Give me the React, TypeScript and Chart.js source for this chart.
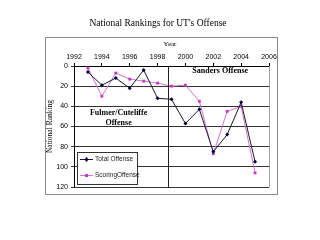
import React, { useEffect, useRef } from "react";
import { Chart, registerables } from "chart.js";

Chart.register(...registerables);

// Season years and national rankings per season
const years = [1993, 1994, 1995, 1996, 1997, 1998, 1999, 2000, 2001, 2002, 2003, 2004, 2005];
const totalOffense = [6, 19, 12, 22, 4, 32, 33, 57, 43, 85, 68, 36, 95];
const scoringOffense = [2, 30, 7, 13, 15, 17, 20, 19, 35, 87, 45, 40, 106];

// Boundary between the two coordinators' eras
const eraDividerYear = 1998.75;
const eraDividerRanks = [0, 120];

const seriesNames = ["Total Offense", "ScoringOffense"];
const eraLabels = [
  { text: ["Sanders Offense"], x: 2002.5, y: 5 },
  { text: ["Fulmer/Cuteliffe", "Offense"], x: 1995.2, y: 47 },
];

const TOTAL_LINE = "#1a1a33";
const TOTAL_MARK = "#000040";
const SCORING_LINE = "#cc77cc";
const SCORING_MARK = "#cc33cc";

const decorPlugin = {
  id: "decor",
  beforeDraw(chart: any) {
    const { ctx } = chart;
    ctx.save();
    ctx.fillStyle = "#ffffff";
    ctx.fillRect(0, 0, chart.width, chart.height);
    ctx.restore();
  },
  afterDatasetsDraw(chart: any) {
    const { ctx } = chart;
    const xs = chart.scales.x;
    const ys = chart.scales.y;
    // era divider, snapped to the pixel grid
    const px = Math.round(xs.getPixelForValue(eraDividerYear)) + 0.5;
    ctx.save();
    ctx.strokeStyle = "#222";
    ctx.lineWidth = 1;
    ctx.beginPath();
    ctx.moveTo(px, ys.getPixelForValue(eraDividerRanks[0]));
    ctx.lineTo(px, ys.getPixelForValue(eraDividerRanks[1]));
    ctx.stroke();
    ctx.restore();
  },
  afterDraw(chart: any) {
    const { ctx, chartArea } = chart;
    const xs = chart.scales.x;
    const ys = chart.scales.y;
    ctx.save();
    // outer frame
    ctx.strokeStyle = "#8a8a8a";
    ctx.lineWidth = 1;
    ctx.strokeRect(45.5, 37.5, 232, 157);
    // right edge of the plot area
    ctx.strokeStyle = "#a0a0a0";
    ctx.beginPath();
    ctx.moveTo(Math.round(chartArea.right) + 0.5, chartArea.top);
    ctx.lineTo(Math.round(chartArea.right) + 0.5, chartArea.bottom);
    ctx.stroke();
    // title
    ctx.fillStyle = "#000";
    ctx.textAlign = "center";
    ctx.textBaseline = "middle";
    ctx.font = "9.5px 'Liberation Serif', serif";
    ctx.fillText("National Rankings for UT's Offense", 158, 23);
    // axis titles
    ctx.font = "7px 'Liberation Serif', serif";
    ctx.fillText("Year", 170, 44);
    ctx.save();
    ctx.translate(50, (chartArea.top + chartArea.bottom) / 2);
    ctx.rotate(-Math.PI / 2);
    ctx.font = "7.5px 'Liberation Serif', serif";
    ctx.fillText("National Ranking", 0, 0);
    ctx.restore();
    // era labels
    ctx.font = "bold 8px 'Liberation Serif', serif";
    eraLabels.forEach((l) => {
      l.text.forEach((t, i) => {
        ctx.fillText(t, xs.getPixelForValue(l.x), ys.getPixelForValue(l.y) + i * 10);
      });
    });
    // legend box inside the plot
    const lx = 77.5, ly = 152.5, lw = 60, lh = 32;
    ctx.fillStyle = "#fff";
    ctx.fillRect(lx, ly, lw, lh);
    ctx.strokeStyle = "#333";
    ctx.strokeRect(lx, ly, lw, lh);
    const rows = [
      { name: seriesNames[0], line: TOTAL_LINE, mark: TOTAL_MARK, shape: "diamond", y: 159 },
      { name: seriesNames[1], line: SCORING_LINE, mark: SCORING_MARK, shape: "square", y: 175 },
    ];
    rows.forEach((r) => {
      ctx.strokeStyle = r.line;
      ctx.beginPath();
      ctx.moveTo(80, r.y + 0.5);
      ctx.lineTo(93, r.y + 0.5);
      ctx.stroke();
      ctx.fillStyle = r.mark;
      if (r.shape === "square") {
        ctx.fillRect(85, r.y - 1, 3, 3);
      } else {
        ctx.beginPath();
        ctx.moveTo(86.5, r.y - 2);
        ctx.lineTo(88.5, r.y + 0.5);
        ctx.lineTo(86.5, r.y + 3);
        ctx.lineTo(84.5, r.y + 0.5);
        ctx.closePath();
        ctx.fill();
      }
      ctx.fillStyle = "#222";
      ctx.textAlign = "left";
      ctx.font = "6.5px 'Liberation Sans', sans-serif";
      ctx.fillText(r.name, 95, r.y + 0.5);
    });
    ctx.restore();
  },
};

export default function App() {
  const ref = useRef<HTMLCanvasElement>(null);

  useEffect(() => {
    document.body.style.margin = "0";
    const chart = new Chart(ref.current!, {
      type: "line",
      data: {
        datasets: [
          {
            label: seriesNames[0],
            data: years.map((x, i) => ({ x, y: totalOffense[i] })),
            borderColor: TOTAL_LINE,
            backgroundColor: TOTAL_MARK,
            borderWidth: 1,
            pointStyle: "rectRot",
            pointRadius: 2,
            pointBorderWidth: 0,
          },
          {
            label: seriesNames[1],
            data: years.map((x, i) => ({ x, y: scoringOffense[i] })),
            borderColor: SCORING_LINE,
            backgroundColor: SCORING_MARK,
            borderWidth: 1,
            pointStyle: "rect",
            pointRadius: 2,
            pointBorderWidth: 0,
          },
        ],
      },
      options: {
        responsive: false,
        animation: false,
        layout: { padding: { left: 0, right: 51, top: 0, bottom: 53 } },
        plugins: {
          legend: { display: false },
          tooltip: { enabled: false },
        },
        scales: {
          x: {
            type: "linear",
            position: "top",
            min: 1992,
            max: 2006,
            afterFit: (s: any) => { s.height = 66; },
            ticks: {
              stepSize: 2,
              color: "#000",
              font: { family: "'Liberation Sans', sans-serif", size: 7 },
              padding: 2,
              callback: (v: any) => String(v),
            },
            grid: {
              drawOnChartArea: false,
              color: "#000",
              tickLength: 3,
            },
            border: { color: "#000" },
          },
          y: {
            reverse: true,
            min: 0,
            max: 120,
            afterFit: (s: any) => { s.width = 74; },
            ticks: {
              stepSize: 20,
              color: "#000",
              font: { family: "'Liberation Sans', sans-serif", size: 7 },
              padding: 3,
            },
            grid: {
              color: "#333",
              tickLength: 3,
            },
            border: { color: "#000" },
          },
        },
      },
      plugins: [decorPlugin],
    });
    return () => chart.destroy();
  }, []);

  return (
    <div style={{ width: 320, height: 240 }}>
      <canvas ref={ref} width={320} height={240} style={{ display: "block" }} />
    </div>
  );
}
